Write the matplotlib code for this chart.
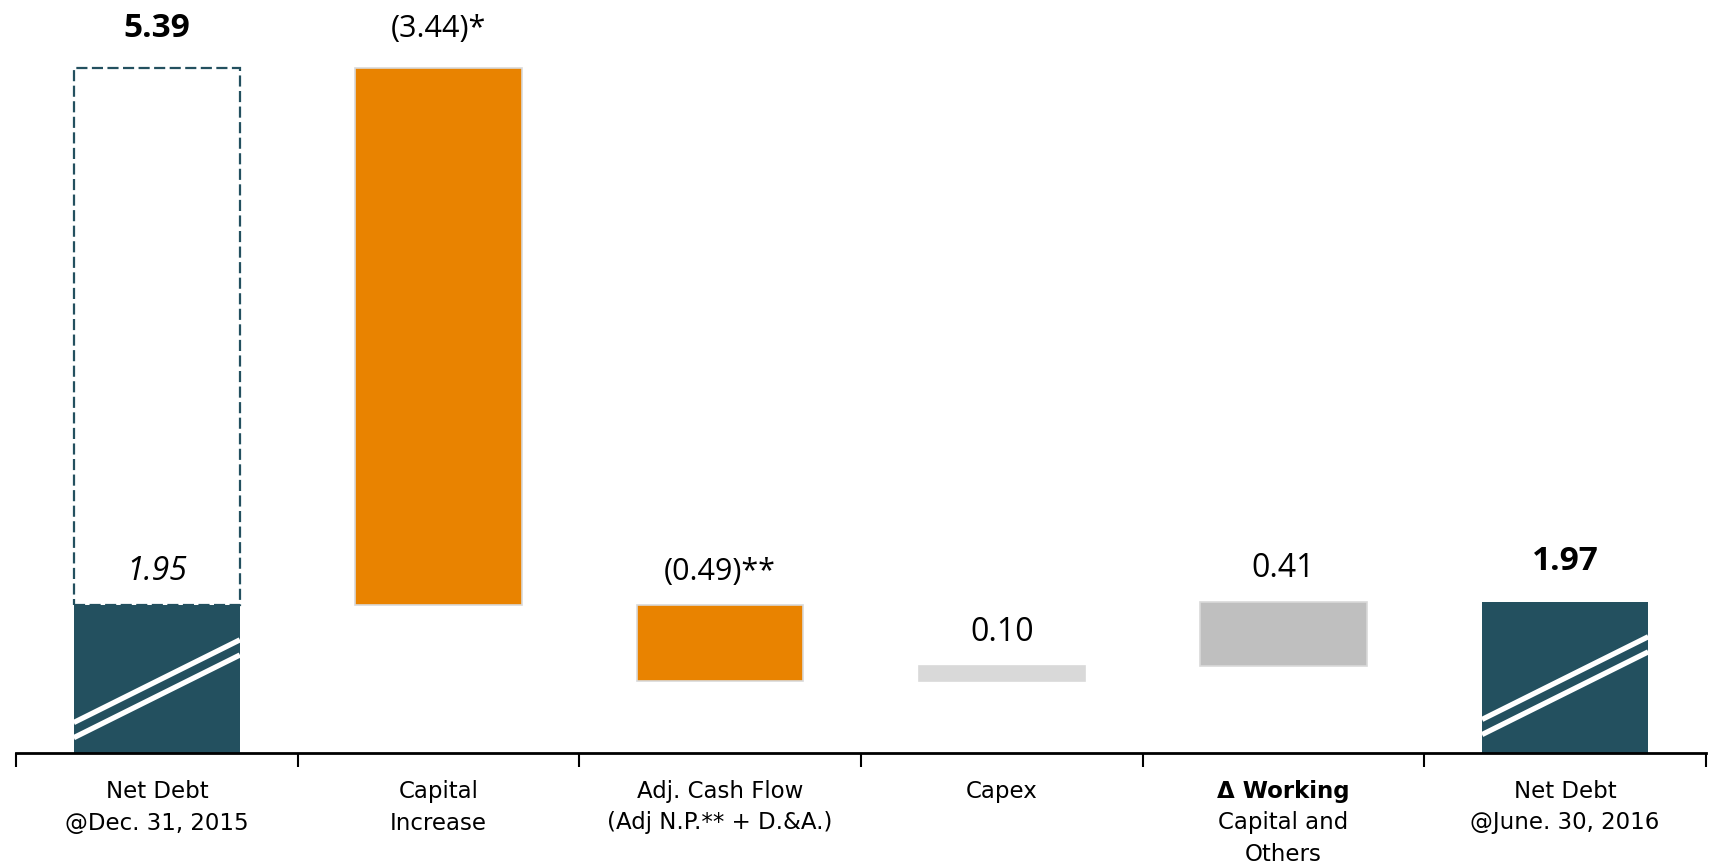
import matplotlib
matplotlib.use("Agg")
import matplotlib.pyplot as plt
from matplotlib.transforms import blended_transform_factory

plt.rcParams['font.family'] = ['Open Sans', 'DejaVu Sans']

# ---- data ----
categories = ["Net Debt\n@Dec. 31, 2015", "Capital\nIncrease",
              "Adj. Cash Flow\n(Adj N.P.** + D.&A.)", "Capex",
              "Δ Working\nCapital and\nOthers", "Net Debt\n@June. 30, 2016"]
bold_first_line = [False, False, False, False, True, False]
start_debt = 5.39          # net debt before capital increase (dashed)
reported_start = 1.95      # reported net debt at Dec 31, 2015
changes = [-3.44, -0.49, 0.10, 0.41]
end_debt = 1.97
value_labels = ["5.39", "(3.44)*", "(0.49)**", "0.10", "0.41", "1.97"]
start_inner_label = "1.95"

# ---- style ----
TEAL = "#23505F"
ORANGE = "#E98300"
GRAY = "#BFBFBF"
LIGHT = "#D9D9D9"
change_colors = [ORANGE, ORANGE, LIGHT, GRAY]

W, H = 1712, 867
fig = plt.figure(figsize=(W / 100, H / 100), dpi=100)
ax = fig.add_axes([16 / W, (H - 753) / H, 1690 / W, 753 / H])
ax.set_xlim(-0.5, 5.5)
ax.set_ylim(1.0, 5.824)

bw = 0.59
x = list(range(len(categories)))

# start bar (solid) and dashed outline for pre-capital-increase debt
ax.bar(x[0], reported_start, width=bw, color=TEAL, zorder=2)
dashed = ax.bar(x[0], start_debt - reported_start, bottom=reported_start, width=bw,
                facecolor="white", edgecolor=TEAL, linewidth=1.6,
                linestyle=(0, (5, 2)), zorder=3)

# change bars (waterfall)
level = start_debt
tops = [start_debt]
for i, ch in enumerate(changes):
    bottom = level + ch if ch < 0 else level
    ax.bar(x[i + 1], abs(ch), bottom=bottom, width=bw, color=change_colors[i],
           edgecolor=LIGHT, linewidth=1.2, zorder=2)
    tops.append(bottom + abs(ch))
    level += ch

# end bar
ax.bar(x[5], end_debt, width=bw, color=TEAL, zorder=2)
tops.append(end_debt)

# break marks (white double diagonal) on total bars
for xi, off in [(x[0], 0.0), (x[5], 0.02)]:
    x0, x1 = xi - bw / 2, xi + bw / 2
    for y0, y1 in [(1.195 + off, 1.725 + off), (1.098 + off, 1.628 + off)]:
        ax.plot([x0, x1], [y0, y1], color="white", lw=3.8,
                solid_capstyle="butt", zorder=4)

# value labels
offsets = [22.3, 22.0, 17.5, 17.5, 18.0, 22.7]
weights = ["bold", "normal", "normal", "normal", "normal", "bold"]
sizes = [24, 22, 22, 23, 23, 24]
for i, lab in enumerate(value_labels):
    ax.annotate(lab, (x[i], tops[i]), xytext=(0, offsets[i]),
                textcoords="offset points", ha="center", va="baseline",
                fontsize=sizes[i], fontweight=weights[i], color="black",
                annotation_clip=False)
ax.annotate(start_inner_label, (x[0], reported_start), xytext=(0, 17.5),
            textcoords="offset points", ha="center", va="baseline",
            fontsize=23, fontstyle="italic", color="black", zorder=5)

# axes styling
for s in ["left", "right", "top"]:
    ax.spines[s].set_visible(False)
ax.spines["bottom"].set_linewidth(2.0)
ax.spines["bottom"].set_color("black")
ax.set_yticks([])
ax.set_xticks([i - 0.5 for i in range(len(categories) + 1)])
ax.set_xticklabels([])
ax.tick_params(axis="x", length=10, width=1.5, color="black")

# category labels
trans = blended_transform_factory(ax.transData, ax.transAxes)
line_h = 31.5 / 753
for i, cat in enumerate(categories):
    lines = cat.split("\n")
    for j, ln in enumerate(lines):
        ax.text(x[i], -45 / 753 - j * line_h, ln, transform=trans,
                ha="center", va="baseline", fontsize=16.5,
                family=['DejaVu Sans'],
                fontweight="bold" if (bold_first_line[i] and j == 0) else "normal",
                clip_on=False)

fig.savefig("out.png", dpi=100, facecolor="white")
